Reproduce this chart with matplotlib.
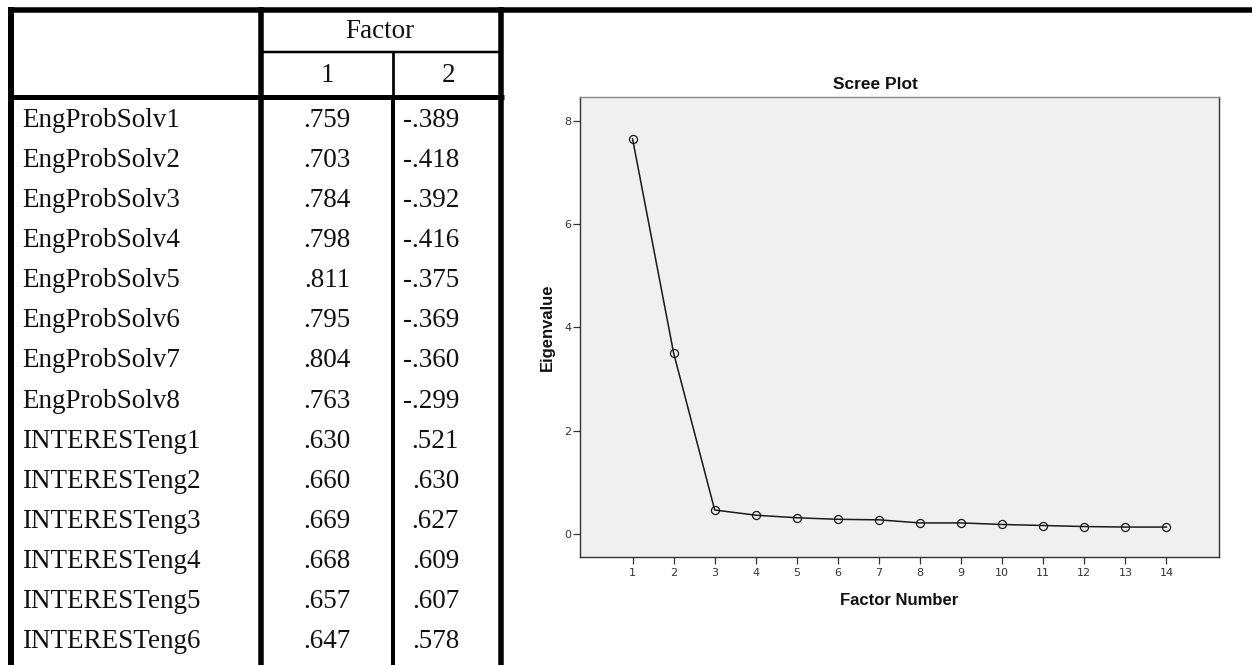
import matplotlib
matplotlib.use('Agg')
import matplotlib.pyplot as plt

# ---------------- data ----------------
variables = ['EngProbSolv1', 'EngProbSolv2', 'EngProbSolv3', 'EngProbSolv4',
             'EngProbSolv5', 'EngProbSolv6', 'EngProbSolv7', 'EngProbSolv8',
             'INTERESTeng1', 'INTERESTeng2', 'INTERESTeng3', 'INTERESTeng4',
             'INTERESTeng5', 'INTERESTeng6']
factor1 = ['.759', '.703', '.784', '.798', '.811', '.795', '.804', '.763',
           '.630', '.660', '.669', '.668', '.657', '.647']
factor2 = ['-.389', '-.418', '-.392', '-.416', '-.375', '-.369', '-.360', '-.299',
           '.521', '.630', '.627', '.609', '.607', '.578']
factor_numbers = list(range(1, 15))
eigenvalues = [7.65, 3.50, 0.46, 0.36, 0.31, 0.28, 0.27, 0.21, 0.21, 0.18,
               0.16, 0.14, 0.13, 0.13]
yticks = [0, 2, 4, 6, 8]

# ---------------- figure ----------------
W, H = 1252, 665
PX = 72.0 / 100.0  # points per pixel
fig = plt.figure(figsize=(W / 100, H / 100), dpi=100)
fig.patch.set_facecolor('white')

bg = fig.add_axes([0, 0, 1, 1])
bg.set_xlim(0, W)
bg.set_ylim(H, 0)
bg.axis('off')

serif = 'Liberation Serif'
fs = 19.5
tcol = '#111111'


def hline(y, x0, x1, wpx):
    bg.plot([x0, x1], [y, y], color='black', lw=wpx * PX, solid_capstyle='butt')


def vline(x, y0, y1, wpx):
    bg.plot([x, x], [y0, y1], color='black', lw=wpx * PX, solid_capstyle='butt')


# table borders
hline(9.5, 8, W, 5.5)
vline(11, 7, H, 6)
vline(261, 7, H, 5.5)
vline(501, 7, H, 5.5)
hline(96.5, 8, 504, 5)
hline(52, 261, 501, 2.5)
vline(393, 52, 96.5, 2.7)
vline(393, 96.5, H, 4)

# header text
bg.text(380, 38, 'Factor', ha='center', va='baseline', fontsize=fs, family=serif, color=tcol)
bg.text(327, 82, '1', ha='center', va='baseline', fontsize=fs, family=serif, color=tcol)
bg.text(449, 82, '2', ha='center', va='baseline', fontsize=fs, family=serif, color=tcol)

row0, rowh = 127, 40.08
for i, (v, a, b) in enumerate(zip(variables, factor1, factor2)):
    yb = row0 + i * rowh
    bg.text(22, yb, v, ha='left', va='baseline', fontsize=fs, family=serif, color=tcol)
    bg.text(327, yb, a, ha='center', va='baseline', fontsize=fs, family=serif, color=tcol)
    bg.text(459, yb, b, ha='right', va='baseline', fontsize=fs, family=serif, color=tcol)

# ---------------- scree plot ----------------
ax = fig.add_axes([580 / W, 1 - 557 / H, 639 / W, 460 / H])
ax.set_facecolor('#f0f0f0')
ax.plot(factor_numbers, eigenvalues, color='#1a1a1a', lw=1.1,
        marker='o', markersize=5.8, markerfacecolor='none',
        markeredgecolor='#1a1a1a', markeredgewidth=0.9)
ax.set_xlim(-0.28, 15.28)
ax.set_ylim(-0.45, 8.46)
ax.set_xticks(factor_numbers)
ax.set_yticks(yticks)
ax.tick_params(axis='both', labelsize=8, colors='#333333', labelcolor='#333333',
               width=0.9, length=5)
ax.tick_params(axis='x', pad=3)
ax.tick_params(axis='y', pad=1)
for s in ['left', 'bottom', 'right']:
    ax.spines[s].set_color('#333333')
    ax.spines[s].set_linewidth(1.0)
ax.spines['top'].set_color('#8a8a8a')
ax.spines['top'].set_linewidth(1.0)

sans = 'Liberation Sans'
ax.set_title('Scree Plot', x=(875 - 580) / 639, pad=6, fontsize=12.5,
             fontweight='bold', family=sans, color=tcol)
ax.set_xlabel('Factor Number', fontsize=12, fontweight='bold', family=sans,
              color=tcol, labelpad=11)
ax.set_ylabel('Eigenvalue', fontsize=12, fontweight='bold', family=sans,
              color=tcol, labelpad=7)

fig.savefig('out.png', dpi=100, facecolor='white')
